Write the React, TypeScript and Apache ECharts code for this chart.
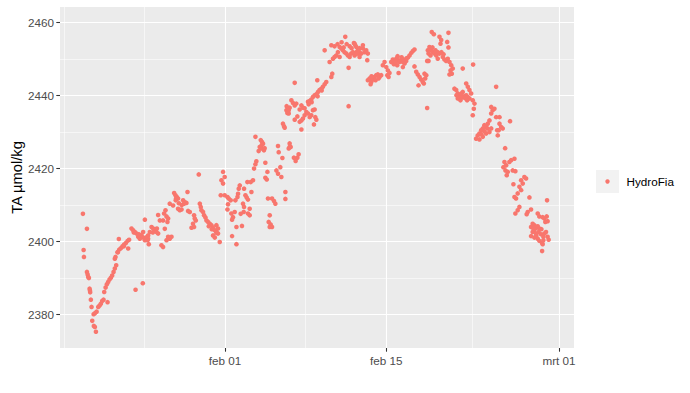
import React, { useEffect, useRef } from "react";
import * as echarts from "echarts";

// Day of year 2024 (Jan 1 00:00 = 0) of each HydroFia sample
const sampleDay: number[] = [
  18.66, 19.01, 18.72, 18.75, 19.01, 19.07, 19.12, 19.18, 19.24, 19.27, 19.29, 19.35, 19.41, 19.59, 19.70, 19.85,
  19.47, 19.61, 19.70, 19.79, 19.99, 20.11, 20.22, 20.33, 20.45, 20.80, 20.51, 20.63, 20.74, 20.85, 20.97, 21.09,
  21.20, 21.32, 21.43, 21.55, 21.43, 21.49, 21.67, 21.81, 21.95, 22.10, 22.24, 22.39, 22.54, 22.67, 21.78, 22.59,
  22.88, 23.02, 23.17, 23.32, 23.46, 23.60, 23.75, 23.89, 24.04, 24.18, 24.32, 24.04, 23.89, 23.23, 23.86,
  // late January
  28.72, 26.58, 26.70, 26.81, 26.92, 26.75, 27.74, 27.36, 27.50, 27.65, 27.44, 26.20, 26.49, 26.92, 27.07, 27.22,
  27.79, 27.94, 28.81, 28.89, 28.95, 29.09, 29.18, 29.30, 29.39, 29.53, 29.67, 29.82, 29.96, 30.11, 30.25, 30.39,
  29.96, 30.11, 28.31, 28.37, 28.46, 28.22, 28.31, 28.09, 25.83, 25.71, 25.92, 26.06, 25.62, 26.00, 25.19, 25.34,
  24.62, 24.76, 24.90, 25.05, 25.19, 24.47, 24.32, 24.18, 24.27, 24.38, 26.06, 26.20, 26.35, 25.92, 25.48, 25.62,
  25.77,
  // early February
  36.33, 36.41, 36.53, 36.03, 36.12, 36.18, 33.64, 34.10, 34.21, 34.30, 34.01, 34.16, 34.38, 33.92, 35.60, 35.66,
  35.98, 36.61, 33.72, 33.64, 33.52, 34.50, 34.68, 35.46, 35.60, 35.89, 34.50, 34.62, 35.80, 36.24, 36.24, 34.73,
  35.08, 35.25, 35.37, 34.88, 34.79, 34.96, 35.08, 34.88, 33.43, 33.23, 32.94, 32.28, 32.19, 32.13, 32.08, 32.65,
  32.77, 32.88, 32.99, 33.29, 30.83, 30.97, 30.69, 30.83, 30.63, 30.97, 31.21, 31.32, 31.49, 31.90, 31.26, 31.21,
  32.56, 32.65, 32.62, 33.14, 32.99, 33.14, 31.55, 31.69, 31.61, 31.84, 32.36, 31.99, 32.47, 31.61, 31.99, 30.25,
  30.39, 30.25, 30.54,
  // February 6 - 12
  41.44, 42.19, 42.31, 40.23, 40.51, 39.65, 40.95, 41.10, 41.23, 41.38, 40.80, 40.66, 40.51, 40.37, 40.95, 41.53,
  41.67, 41.82, 41.96, 42.10, 42.25, 42.40, 42.54, 40.08, 41.73, 40.31, 40.23, 39.01, 39.79, 39.65, 39.50, 39.36,
  39.21, 39.07, 38.93, 38.78, 38.63, 38.49, 38.35, 38.20, 37.05, 41.73, 36.76, 36.90, 37.05, 37.19, 36.61, 36.46,
  37.63, 37.77, 37.48, 38.06, 38.20, 37.91, 37.77, 37.63, 37.48, 38.35, 38.49, 38.63, 38.78, 38.84, 38.93, 38.72,
  37.28, 37.05, 37.63, 36.61, 36.70, 36.53, 37.39, 37.28, 36.98, 37.13,
  // February 12 - 18
  42.25, 42.40, 42.54, 42.68, 42.83, 42.97, 43.12, 43.26, 43.40, 42.40, 42.68, 42.97, 43.35, 43.40, 43.55, 43.70,
  43.84, 43.98, 44.13, 44.27, 44.42, 44.56, 43.64, 44.85, 44.70, 45.00, 45.14, 45.28, 45.09, 45.20, 45.43, 45.57,
  45.72, 45.87, 46.00, 46.15, 46.30, 46.44, 46.59, 46.73, 46.87, 47.02, 47.17, 47.31, 47.45, 45.66, 45.95, 46.07,
  46.44, 47.60, 47.74, 47.89, 48.03, 48.17, 47.80, 48.32, 48.47, 48.38, 48.26, 47.45, 48.61, 48.67, 48.55,
  // February 18 - 24
  48.95, 49.13, 49.62, 49.77, 49.71, 50.40, 50.29, 50.40, 48.75, 48.90, 49.04, 49.19, 49.34, 49.47, 49.62, 48.67,
  48.84, 49.47, 48.55, 49.91, 50.05, 50.20, 50.34, 50.49, 50.64, 50.77, 50.58, 50.69, 50.49, 51.64, 52.54, 50.92,
  51.07, 51.21, 51.36, 51.50, 51.64, 51.79, 51.94, 52.08, 52.22, 52.02, 51.21, 51.44, 51.64, 51.94, 52.08, 52.22,
  52.37, 52.51, 52.66, 52.60, 52.51, 54.54, 54.11, 54.24, 54.39, 54.11, 53.96, 53.81, 53.67, 53.52, 53.38, 53.24,
  53.09, 52.94, 52.80, 53.09, 53.38, 53.67, 53.96, 54.11, 54.54, 54.63, 54.68,
  // February 24 - 29
  54.83, 54.97, 54.76, 55.11, 55.75, 54.83, 55.32, 55.26, 55.41, 55.17, 55.35, 55.55, 55.46, 55.69, 55.84, 56.13,
  55.98, 56.21, 56.71, 56.85, 56.56, 56.71, 56.41, 56.27, 56.13, 56.99, 57.14, 56.04, 57.43, 56.56, 56.41, 56.21,
  57.28, 57.57, 57.19, 58.15, 58.29, 58.58, 58.73, 58.93, 59.01, 58.81, 58.96, 58.53, 57.71, 57.86, 57.57, 58.01,
  58.15, 58.29, 57.86, 57.71, 58.01, 58.23, 58.44, 57.57, 57.86, 58.15, 58.29, 58.53, 58.64, 58.73, 58.87, 59.01,
  59.10, 58.58,
  // extra samples inside the dense clusters
  40.77, 41.12, 41.56, 41.82, 41.99, 41.30, 42.68, 45.98, 46.33, 46.50, 46.76, 45.81, 49.01, 49.27, 49.79, 49.97,
  37.91, 38.26, 38.52, 39.04, 39.39, 43.72, 44.07, 44.33, 51.10, 51.53, 51.88, 53.26, 53.78, 53.52, 57.77, 58.03,
  58.47, 58.64, 26.72, 27.24, 26.99, 24.73, 25.08, 29.59, 29.85, 34.18, 34.44, 36.35, 36.53, 23.08, 23.52, 21.69,
  22.21,
];

// Total alkalinity (µmol/kg) of each sample
const taUmolKg: number[] = [
  2407.6, 2403.5, 2397.7, 2395.8, 2391.7, 2391.0, 2390.3, 2390.0, 2387.1, 2386.6, 2386.1, 2384.1, 2382.1, 2380.1, 2380.4, 2380.8,
  2378.3, 2376.9, 2376.6, 2375.3, 2382.1, 2382.5, 2383.0, 2383.7, 2384.1, 2383.4, 2386.2, 2387.4, 2388.3, 2388.9, 2389.6, 2390.1,
  2390.7, 2391.7, 2392.6, 2393.5, 2395.3, 2395.8, 2397.1, 2397.8, 2398.2, 2398.7, 2399.2, 2399.6, 2400.2, 2400.5, 2400.7, 2398.1,
  2403.6, 2403.1, 2402.6, 2402.2, 2401.3, 2400.8, 2401.7, 2401.1, 2400.4, 2400.5, 2400.8, 2406.0, 2402.6, 2386.8, 2388.6,
  // late January
  2418.4, 2413.3, 2412.7, 2412.2, 2411.8, 2411.8, 2413.6, 2411.3, 2410.8, 2410.6, 2410.4, 2410.4, 2409.9, 2409.0, 2408.6, 2408.8,
  2408.4, 2408.1, 2410.4, 2409.5, 2408.6, 2408.1, 2407.2, 2406.6, 2405.8, 2405.4, 2404.9, 2404.5, 2403.8, 2403.1, 2402.6, 2402.2,
  2401.7, 2401.1, 2407.2, 2406.3, 2405.8, 2404.9, 2404.0, 2403.8, 2408.6, 2407.7, 2406.9, 2406.3, 2405.8, 2405.4, 2407.3, 2405.8,
  2404.0, 2403.6, 2403.1, 2402.6, 2402.2, 2402.6, 2401.7, 2401.2, 2400.4, 2399.3, 2401.3, 2400.8, 2401.3, 2400.4, 2399.0, 2398.5,
  2403.5,
  // early February
  2436.0, 2435.2, 2435.1, 2432.3, 2431.6, 2431.2, 2428.7, 2427.8, 2427.3, 2426.8, 2425.9, 2425.5, 2425.0, 2424.8, 2426.2, 2424.5,
  2422.9, 2425.9, 2422.0, 2421.2, 2420.0, 2421.6, 2419.1, 2419.5, 2418.6, 2417.7, 2417.5, 2417.0, 2420.4, 2413.6, 2411.7, 2411.8,
  2411.8, 2411.1, 2410.4, 2407.2, 2405.4, 2404.7, 2404.0, 2404.0, 2416.8, 2416.3, 2416.3, 2415.4, 2414.5, 2413.1, 2412.2, 2414.5,
  2412.7, 2412.1, 2411.5, 2413.6, 2419.1, 2417.7, 2416.8, 2415.9, 2412.7, 2412.7, 2412.2, 2411.8, 2411.3, 2411.3, 2410.2, 2408.8,
  2410.4, 2409.5, 2408.1, 2409.0, 2407.7, 2407.2, 2407.7, 2406.7, 2406.0, 2408.1, 2407.6, 2404.0, 2404.3, 2401.5, 2399.3, 2404.5,
  2403.6, 2402.4, 2399.9,
  // February 6 - 12
  2456.1, 2454.4, 2453.8, 2453.8, 2453.5, 2452.4, 2453.3, 2452.9, 2452.4, 2451.9, 2451.9, 2451.0, 2450.6, 2450.1, 2450.6, 2451.5,
  2451.0, 2450.6, 2451.5, 2451.9, 2451.0, 2451.9, 2451.5, 2449.2, 2447.6, 2446.0, 2445.1, 2444.2, 2443.7, 2443.1, 2442.4, 2441.9,
  2441.5, 2441.0, 2440.4, 2440.1, 2439.6, 2438.9, 2438.5, 2438.3, 2443.5, 2437.1, 2438.7, 2438.0, 2437.3, 2437.8, 2436.7, 2436.2,
  2437.3, 2436.7, 2436.2, 2435.5, 2435.1, 2434.6, 2433.7, 2433.2, 2432.8, 2434.1, 2434.6, 2436.0, 2436.2, 2434.1, 2433.4, 2432.1,
  2434.3, 2433.4, 2430.7, 2426.9, 2425.9, 2425.5, 2423.9, 2423.0, 2423.0, 2422.1,
  // February 12 - 18
  2454.2, 2453.3, 2452.4, 2451.9, 2451.5, 2452.9, 2451.9, 2452.4, 2451.5, 2451.5, 2450.6, 2453.8, 2449.7, 2444.2, 2444.7, 2443.7,
  2444.4, 2445.1, 2445.6, 2445.8, 2445.1, 2445.6, 2443.1, 2449.2, 2448.3, 2447.8, 2446.9, 2446.2, 2445.6, 2445.1, 2449.2, 2449.9,
  2449.5, 2450.1, 2449.7, 2449.2, 2449.9, 2449.2, 2448.8, 2449.5, 2450.4, 2451.0, 2451.7, 2452.2, 2452.6, 2448.6, 2448.3, 2446.2,
  2447.8, 2446.5, 2445.8, 2445.1, 2444.4, 2443.7, 2442.8, 2446.0, 2445.6, 2444.7, 2443.3, 2448.0, 2452.4, 2449.5, 2436.6,
  // February 18 - 24
  2457.4, 2456.8, 2456.1, 2455.2, 2454.2, 2457.2, 2454.7, 2453.2, 2453.3, 2452.4, 2451.9, 2451.5, 2451.0, 2451.9, 2451.5, 2451.5,
  2451.0, 2450.1, 2449.5, 2450.6, 2449.9, 2449.5, 2450.1, 2449.2, 2448.3, 2447.4, 2446.9, 2446.0, 2445.8, 2447.4, 2448.5, 2441.9,
  2441.5, 2440.6, 2440.1, 2439.6, 2439.5, 2439.8, 2440.1, 2439.6, 2439.2, 2438.7, 2439.2, 2438.7, 2441.0, 2443.3, 2442.4, 2441.5,
  2440.6, 2438.7, 2437.8, 2436.4, 2434.6, 2442.4, 2436.9, 2436.0, 2436.4, 2435.1, 2433.2, 2432.3, 2431.4, 2431.9, 2431.0, 2430.5,
  2429.6, 2429.1, 2428.2, 2428.0, 2428.7, 2429.6, 2430.0, 2431.0, 2434.1, 2430.5, 2429.1,
  // February 24 - 29
  2432.3, 2431.4, 2430.5, 2431.0, 2433.0, 2434.1, 2425.6, 2421.8, 2420.9, 2420.4, 2419.5, 2419.1, 2418.2, 2421.8, 2422.3, 2422.7,
  2419.5, 2419.3, 2416.8, 2415.9, 2415.0, 2414.1, 2413.2, 2411.8, 2412.2, 2417.7, 2417.3, 2415.7, 2412.1, 2409.5, 2408.6, 2407.7,
  2408.1, 2408.8, 2407.5, 2407.7, 2406.9, 2406.7, 2406.3, 2406.9, 2405.6, 2405.4, 2411.3, 2397.4, 2404.9, 2404.5, 2404.0, 2403.8,
  2404.2, 2403.6, 2403.1, 2402.6, 2402.2, 2402.6, 2402.0, 2401.5, 2401.1, 2400.8, 2400.2, 2399.6, 2401.3, 2402.2, 2402.6, 2401.3,
  2400.5, 2399.3,
  // extra samples inside the dense clusters
  2454.1, 2454.6, 2454.1, 2453.5, 2453.0, 2453.2, 2453.0, 2450.8, 2450.5, 2449.9, 2450.2, 2449.1, 2453.2, 2452.4, 2451.9, 2451.3,
  2436.5, 2437.6, 2438.2, 2439.8, 2441.4, 2445.3, 2444.2, 2444.7, 2440.1, 2440.6, 2439.3, 2429.4, 2431.0, 2430.2, 2403.6, 2401.7,
  2403.4, 2400.4, 2411.3, 2410.0, 2410.5, 2402.5, 2403.6, 2404.2, 2403.4, 2426.4, 2425.6, 2437.1, 2436.0, 2402.5, 2402.0, 2397.1,
  2398.7,
];

const seriesName = "HydroFia";
const xTickDays = [31, 45, 60];
const xTickLabels = ["feb 01", "feb 15", "mrt 01"];
const xMinorDays = [17, 24, 38, 52.5];
const yTicks = [2380, 2400, 2420, 2440, 2460];
const yMinorTicks = [2390, 2410, 2430, 2450];
const yAxisTitle = "TA µmol/kg";

const FONT = "'Liberation Sans', Arial, sans-serif";

export default function App() {
  const ref = useRef<HTMLDivElement>(null);
  useEffect(() => {
    if (!ref.current) return;
    const chart = echarts.init(ref.current, undefined, { renderer: "svg" });
    const data = sampleDay.map((d, i) => [d, taUmolKg[i]]);
    const major = { color: "#FFFFFF", width: 1.1, type: "solid" };
    const minor = { color: "#FFFFFF", width: 0.55, type: "solid" };
    const markData: any[] = [
      ...yMinorTicks.map((v) => ({ yAxis: v, lineStyle: minor })),
      ...xMinorDays.map((v) => ({ xAxis: v, lineStyle: minor })),
      ...yTicks.map((v) => ({ yAxis: v, lineStyle: major })),
      ...xTickDays.map((v) => ({ xAxis: v, lineStyle: major })),
    ];
    chart.setOption({
      animation: false,
      backgroundColor: "#FFFFFF",
      textStyle: { fontFamily: FONT },
      grid: {
        left: 60,
        right: 116,
        top: 7,
        bottom: 45,
        show: true,
        backgroundColor: "#EBEBEB",
        borderWidth: 0,
        containLabel: false,
        outerBoundsMode: "none",
      },
      xAxis: {
        type: "value",
        min: 16.67,
        max: 61.3,
        splitLine: { show: false },
        axisLine: { show: false },
        axisTick: {
          show: true,
          customValues: xTickDays,
          length: 3.7,
          lineStyle: { color: "#333333", width: 1.07 },
        },
        axisLabel: {
          customValues: xTickDays,
          formatter: (v: number) => {
            const i = xTickDays.indexOf(v);
            return i >= 0 ? xTickLabels[i] : "";
          },
          color: "#4D4D4D",
          fontSize: 11.7,
          fontFamily: FONT,
          margin: 6,
        },
      },
      yAxis: {
        type: "value",
        min: 2370.85,
        max: 2464.27,
        splitLine: { show: false },
        axisLine: { show: false },
        axisTick: {
          show: true,
          customValues: yTicks,
          length: 3.7,
          lineStyle: { color: "#333333", width: 1.07 },
        },
        axisLabel: {
          customValues: yTicks,
          formatter: (v: number) => String(Math.round(v)),
          color: "#4D4D4D",
          fontSize: 11.7,
          fontFamily: FONT,
          margin: 6,
        },
      },
      graphic: [
        {
          type: "text",
          x: 16.5,
          y: 177.5,
          rotation: Math.PI / 2,
          style: {
            text: yAxisTitle,
            fill: "#000000",
            fontSize: 14.7,
            fontFamily: FONT,
            align: "center",
            verticalAlign: "middle",
          },
        },
        { type: "rect", shape: { x: 596, y: 170, width: 23, height: 23 }, style: { fill: "#F2F2F2" } },
        { type: "circle", shape: { cx: 607.5, cy: 181.5, r: 2.2 }, style: { fill: "#F8766D" } },
        {
          type: "text",
          x: 626.5,
          y: 181.5,
          style: { text: seriesName, fill: "#000000", fontSize: 11.7, fontFamily: FONT, verticalAlign: "middle" },
        },
      ],
      series: [
        {
          name: seriesName,
          type: "scatter",
          data,
          symbol: "circle",
          symbolSize: 4.6,
          itemStyle: { color: "#F8766D", opacity: 1 },
          z: 3,
          markLine: {
            silent: true,
            symbol: ["none", "none"],
            label: { show: false },
            z: 1,
            data: markData,
          },
        },
      ],
    });
    return () => chart.dispose();
  }, []);
  return (
    <div
      ref={ref}
      style={{ position: "fixed", left: 0, top: 0, width: 690, height: 393, background: "#FFFFFF" }}
    />
  );
}
